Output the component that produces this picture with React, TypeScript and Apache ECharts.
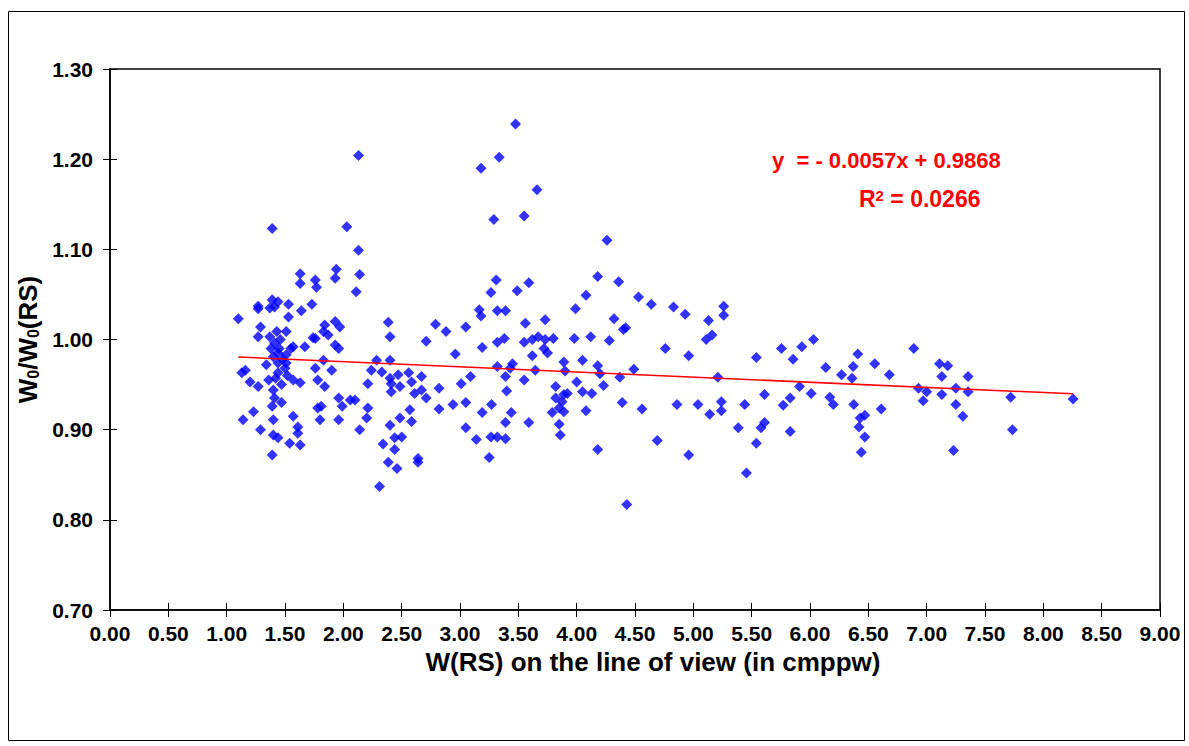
import React, { useEffect, useRef } from "react";
import * as echarts from "echarts";

// W(RS) on the line of view (in cmppw)
const pointsX: number[] = [
  1.39, 1.63, 1.63, 1.76, 1.77, 1.39, 1.44, 1.27, 1.27, 1.37, 1.41, 1.53, 1.64, 1.73, 1.53, 1.10, 1.29, 1.27, 1.37, 1.43,
  1.51, 1.41, 1.57, 1.67, 1.74, 1.44, 1.51, 1.40, 1.34, 1.44, 1.51, 1.16, 1.13, 1.44, 1.20, 1.27, 1.57, 1.63, 1.40, 1.47,
  1.41, 1.47, 1.39, 1.23, 1.14, 1.40, 1.57, 1.29, 1.61, 1.61, 1.40, 1.44, 1.54, 1.63, 1.39, 1.45, 1.48, 1.50, 1.42, 1.38,
  1.55, 1.52, 1.46, 1.36, 1.78,
  2.13, 2.03, 2.13, 2.14, 2.11, 1.94, 1.93, 1.93, 1.97, 1.84, 1.83, 1.76, 1.87, 1.93, 1.96, 2.385, 2.40, 2.71, 1.83, 1.76,
  1.90, 1.78, 1.84, 2.285, 2.40, 2.24, 2.33, 2.21, 2.40, 2.47, 2.56, 2.67, 2.41, 2.485, 2.585, 2.61, 2.67, 2.71, 1.96, 1.99,
  2.06, 2.10, 1.81, 1.80, 1.96, 2.21, 2.20, 2.14, 2.40, 2.485, 2.57, 2.50, 2.44, 2.34, 2.44, 2.64, 2.64, 2.385, 2.46, 2.31,
  2.585, 2.41,
  3.476, 3.336, 3.18, 3.66, 3.29, 3.55, 4.26, 3.31, 3.265, 3.49, 3.59, 4.18, 4.36, 4.08, 3.99, 4.53, 4.64, 4.83, 3.165, 3.18,
  3.32, 3.39, 3.05, 2.79, 2.88, 2.96, 3.19, 3.32, 3.38, 3.56, 3.73, 3.55, 3.62, 3.67, 3.73, 3.80, 3.98, 4.12, 4.28, 4.32,
  4.40, 4.42, 4.76, 3.62, 3.72, 3.75, 3.32, 3.45, 3.43, 3.645, 3.89, 3.90, 4.05, 4.18, 4.20, 4.37, 4.49, 3.39, 3.55, 3.09,
  3.01, 2.82, 3.40, 3.82, 4.00, 4.05, 4.13, 4.23, 3.82, 3.89, 3.92, 3.875, 3.85, 3.89, 3.79, 4.39, 4.56, 4.08, 3.05, 2.94,
  2.82, 3.27, 3.19, 3.44, 3.39, 3.59, 3.85, 3.86, 3.05, 3.14, 3.265, 3.32, 3.39, 3.25, 4.18, 4.69, 4.43, 4.86,
  4.93, 5.13, 5.26, 5.26, 5.16, 5.11, 4.96, 5.21, 5.54, 5.755, 5.93, 6.03, 5.855, 5.91, 6.135, 6.27, 6.36, 6.37, 6.41, 6.555,
  6.68, 6.89, 7.11, 7.18, 7.13, 6.93, 7.00, 6.97, 7.13, 7.25, 7.25, 7.23, 5.04, 5.14, 5.24, 5.24, 5.385, 5.44, 5.455, 5.54,
  5.58, 5.61, 5.61, 5.77, 5.83, 5.83, 6.01, 6.17, 6.20, 6.375, 6.43, 6.47, 6.47, 6.42, 6.44, 6.61, 4.96,
  7.355, 7.355, 7.31, 7.72, 7.735, 8.255,
];

// W0/W0(RS)
const pointsY: number[] = [
  1.123, 1.073, 1.062, 1.066, 1.058, 1.044, 1.042, 1.037, 1.034, 1.035, 1.036, 1.039, 1.032, 1.039, 1.025, 1.023, 1.014, 1.003, 1.003, 1.009,
  1.009, 0.996, 0.992, 0.992, 1.002, 0.985, 0.983, 0.981, 0.972, 0.974, 0.974, 0.966, 0.963, 0.963, 0.953, 0.948, 0.955, 0.952, 0.944, 0.950,
  0.935, 0.930, 0.926, 0.920, 0.911, 0.911, 0.915, 0.900, 0.903, 0.896, 0.894, 0.891, 0.885, 0.883, 0.872, 0.990, 0.978, 0.968, 0.957, 0.990,
  0.990, 0.960, 1.000, 0.955, 0.924,
  1.204, 1.125, 1.099, 1.072, 1.053, 1.078, 1.068, 1.020, 1.014, 1.016, 1.009, 1.001, 1.005, 0.994, 0.990, 1.019, 1.003, 0.998, 0.977, 0.968,
  0.966, 0.955, 0.948, 0.977, 0.977, 0.966, 0.964, 0.951, 0.957, 0.961, 0.963, 0.959, 0.951, 0.948, 0.953, 0.940, 0.944, 0.935, 0.935, 0.926,
  0.933, 0.933, 0.926, 0.911, 0.911, 0.924, 0.913, 0.900, 0.905, 0.913, 0.922, 0.892, 0.891, 0.884, 0.878, 0.868, 0.864, 0.864, 0.857, 0.837,
  0.909, 0.942,
  1.239, 1.202, 1.190, 1.166, 1.133, 1.137, 1.110, 1.066, 1.052, 1.054, 1.063, 1.070, 1.064, 1.049, 1.034, 1.047, 1.039, 1.036, 1.033, 1.026,
  1.032, 1.032, 1.014, 1.017, 1.009, 0.984, 0.991, 0.997, 1.001, 1.018, 1.022, 0.997, 1.000, 1.003, 1.000, 1.001, 1.001, 1.003, 0.999, 1.023,
  1.011, 1.013, 0.990, 0.982, 0.990, 0.985, 0.970, 0.973, 0.968, 0.966, 0.975, 0.965, 0.977, 0.971, 0.962, 0.958, 0.967, 0.959, 0.955, 0.959,
  0.951, 0.946, 0.943, 0.948, 0.953, 0.942, 0.940, 0.949, 0.935, 0.939, 0.940, 0.931, 0.924, 0.920, 0.919, 0.930, 0.923, 0.921, 0.930, 0.928,
  0.923, 0.928, 0.919, 0.919, 0.908, 0.908, 0.906, 0.894, 0.902, 0.889, 0.892, 0.892, 0.890, 0.869, 0.878, 0.888, 0.817, 0.928,
  1.028, 1.021, 1.037, 1.027, 1.005, 1.000, 0.982, 0.958, 0.980, 0.990, 0.992, 1.000, 0.978, 0.948, 0.969, 0.961, 0.957, 0.970, 0.984, 0.973,
  0.961, 0.990, 0.973, 0.971, 0.959, 0.946, 0.942, 0.932, 0.939, 0.946, 0.928, 0.877, 0.928, 0.917, 0.931, 0.921, 0.902, 0.928, 0.852, 0.885,
  0.902, 0.908, 0.939, 0.927, 0.935, 0.898, 0.940, 0.936, 0.928, 0.928, 0.913, 0.916, 0.892, 0.903, 0.875, 0.923, 0.872,
  0.959, 0.942, 0.915, 0.936, 0.900, 0.934,
];

// Linear trend line (as printed on the chart)
const trendSlope = -0.0057;
const trendIntercept = 0.9868;
const equationText = "y  = - 0.0057x + 0.9868";
const r2Value = "0.0266";

const xTitle = "W(RS) on the line of view (in cmppw)";
const FONT = '"Liberation Sans", Arial, sans-serif';

export default function App() {
  const ref = useRef<HTMLDivElement>(null);

  useEffect(() => {
    if (!ref.current) return;
    const chart = echarts.init(ref.current, null, { renderer: "svg" });

    const scatterData = pointsX.map((x, i) => [x, pointsY[i]]);
    const xMin = Math.min(...pointsX);
    const xMax = Math.max(...pointsX);
    const trendData = [
      [xMin, trendIntercept + trendSlope * xMin],
      [xMax, trendIntercept + trendSlope * xMax],
    ];

    const labelStyle = {
      fontFamily: FONT,
      fontWeight: "bold" as const,
      fontSize: 21,
      color: "#000",
    };

    chart.setOption({
      animation: false,
      backgroundColor: "#fff",
      grid: {
        left: 110,
        right: 29,
        top: 69,
        bottom: 136,
        show: true,
        borderColor: "#000",
        borderWidth: 1.5,
        backgroundColor: "#fff",
      },
      xAxis: [
        {
          type: "value",
          min: 0,
          max: 9,
          interval: 0.5,
          position: "bottom",
          axisLine: { onZero: false, lineStyle: { color: "#000", width: 1.5 } },
          axisTick: { length: 7, lineStyle: { color: "#000", width: 1 } },
          splitLine: { show: false },
          axisLabel: { ...labelStyle, margin: 13, formatter: (v: number) => v.toFixed(2) },
          name: xTitle,
          nameLocation: "middle",
          nameGap: 36,
          nameTextStyle: {
            fontFamily: FONT,
            fontWeight: "bold",
            fontSize: 26,
            color: "#000",
            padding: [0, 0, 0, 36],
          },
        },
        {
          type: "value",
          min: 0,
          max: 9,
          interval: 0.5,
          position: "bottom",
          axisLine: { show: false },
          axisTick: { inside: true, length: 7, lineStyle: { color: "#000", width: 1 } },
          axisLabel: { show: false },
          splitLine: { show: false },
        },
      ],
      yAxis: [
        {
          type: "value",
          min: 0.7,
          max: 1.3,
          interval: 0.1,
          position: "left",
          axisLine: { onZero: false, lineStyle: { color: "#000", width: 1.5 } },
          axisTick: { length: 7, lineStyle: { color: "#000", width: 1 } },
          splitLine: { show: false },
          axisLabel: { ...labelStyle, margin: 17, formatter: (v: number) => v.toFixed(2) },
          name: "{w|W}{s|0}{w|/W}{s|0}{w|(RS)}",
          nameLocation: "middle",
          nameRotate: 90,
          nameGap: 60,
          nameTextStyle: {
            rich: {
              w: { fontFamily: FONT, fontWeight: "bold", fontSize: 26, color: "#000" },
              s: { fontFamily: FONT, fontWeight: "bold", fontSize: 16, color: "#000", verticalAlign: "bottom" },
            },
          },
        },
        {
          type: "value",
          min: 0.7,
          max: 1.3,
          interval: 0.1,
          position: "left",
          axisLine: { show: false },
          axisTick: { inside: true, length: 7, lineStyle: { color: "#000", width: 1 } },
          axisLabel: { show: false },
          splitLine: { show: false },
        },
      ],
      series: [
        {
          type: "scatter",
          xAxisIndex: 0,
          yAxisIndex: 0,
          symbol: "diamond",
          symbolSize: 11,
          itemStyle: { color: "#0000FF" },
          data: scatterData,
          z: 2,
        },
        {
          type: "line",
          xAxisIndex: 0,
          yAxisIndex: 0,
          data: trendData,
          showSymbol: false,
          symbol: "none",
          lineStyle: { color: "#FF0000", width: 1.5 },
          z: 3,
        },
      ],
      graphic: [
        {
          type: "rect",
          left: 6,
          top: 9,
          shape: { width: 1176, height: 729 },
          style: { fill: "none", stroke: "#000", lineWidth: 1 },
          z: -1,
          silent: true,
        },
        {
          type: "text",
          x: 772,
          y: 160,
          style: {
            text: equationText,
            fill: "#FF0000",
            fontFamily: FONT,
            fontWeight: "bold",
            fontSize: 22,
            verticalAlign: "middle",
            align: "left",
          },
          z: 10,
        },
        {
          type: "text",
          x: 859,
          y: 199,
          style: {
            text: "{a|R}{s|2}{a| = " + r2Value + "}",
            verticalAlign: "middle",
            align: "left",
            rich: {
              a: { fill: "#FF0000", fontFamily: FONT, fontWeight: "bold", fontSize: 23 },
              s: { fill: "#FF0000", fontFamily: FONT, fontWeight: "bold", fontSize: 15, verticalAlign: "top" },
            },
          },
          z: 10,
        },
      ],
    });

    return () => {
      chart.dispose();
    };
  }, []);

  return (
    <div
      ref={ref}
      style={{ position: "fixed", left: 0, top: 0, width: 1189, height: 746, background: "#fff" }}
    />
  );
}
